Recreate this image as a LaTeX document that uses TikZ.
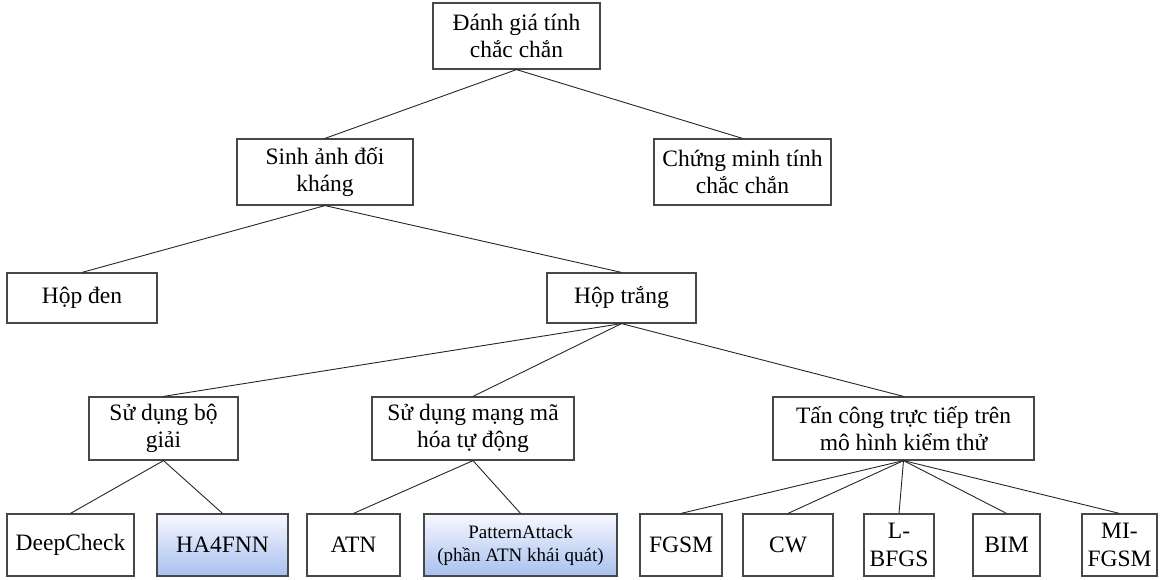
\documentclass[tikz,border=0pt]{standalone}
\usepackage{fontspec}
\setmainfont{Liberation Serif}
\begin{document}
\begin{tikzpicture}[x=1pt,y=-1pt,
  box/.style={draw=black!72, line width=1.2pt, fill=white, align=center,
    inner sep=0pt, font=\fontsize{23.5}{27.5}\selectfont},
  hl/.style={box, top color=blue!3, bottom color={rgb,255:red,168;green,192;blue,238}},
  small/.style={font=\fontsize{19}{23}\selectfont},
  link/.style={draw=black!85, line width=0.9pt}]
\useasboundingbox (0,0) rectangle (1166,580);

% level 0
\node[box, minimum width=167pt, minimum height=66pt] (root) at (516.5,36) {Đánh giá tính\\chắc chắn};
% level 1
\node[box, minimum width=176pt, minimum height=66pt] (sinh) at (325,172) {Sinh ảnh đối\\kháng};
\node[box, minimum width=177pt, minimum height=66pt] (chung) at (742.5,172) {Chứng minh tính\\chắc chắn};
% level 2
\node[box, minimum width=150pt, minimum height=50pt] (den) at (82,298) {Hộp đen};
\node[box, minimum width=149pt, minimum height=50pt] (trang) at (621.5,298) {Hộp trắng};
% level 3
\node[box, minimum width=149pt, minimum height=63pt] (giai) at (163.5,428.5) {Sử dụng bộ\\giải};
\node[box, minimum width=202pt, minimum height=63pt] (mang) at (473,428.5) {Sử dụng mạng mã\\hóa tự động};
\node[box, minimum width=261pt, minimum height=63pt] (tancong) at (903.5,428.5) {Tấn công trực tiếp trên\\mô hình kiểm thử};
% level 4
\node[box, minimum width=127pt, minimum height=62pt] (deep) at (70.5,545) {DeepCheck};
\node[hl, minimum width=131pt, minimum height=62pt] (ha) at (222.5,545) {HA4FNN};
\node[box, minimum width=93pt, minimum height=62pt] (atn) at (353.5,545) {ATN};
\node[hl, small, minimum width=193pt, minimum height=62pt] (pattern) at (520.5,545) {PatternAttack\\(phần ATN khái quát)};
\node[box, minimum width=82pt, minimum height=62pt] (fgsm) at (681,545) {FGSM};
\node[box, minimum width=90pt, minimum height=62pt] (cw) at (788,545) {CW};
\node[box, minimum width=70pt, minimum height=62pt] (lbfgs) at (899,545) {L-\\BFGS};
\node[box, minimum width=67pt, minimum height=62pt] (bim) at (1006.5,545) {BIM};
\node[box, minimum width=75pt, minimum height=62pt] (mi) at (1119.5,545) {MI-\\FGSM};

% connectors
\foreach \p/\c in {root/sinh, root/chung, sinh/den, sinh/trang,
  trang/giai, trang/mang, trang/tancong, giai/deep, giai/ha,
  mang/atn, mang/pattern, tancong/fgsm, tancong/cw, tancong/lbfgs,
  tancong/bim, tancong/mi}
  \draw[link] (\p.south) -- (\c.north);
\end{tikzpicture}
\end{document}
